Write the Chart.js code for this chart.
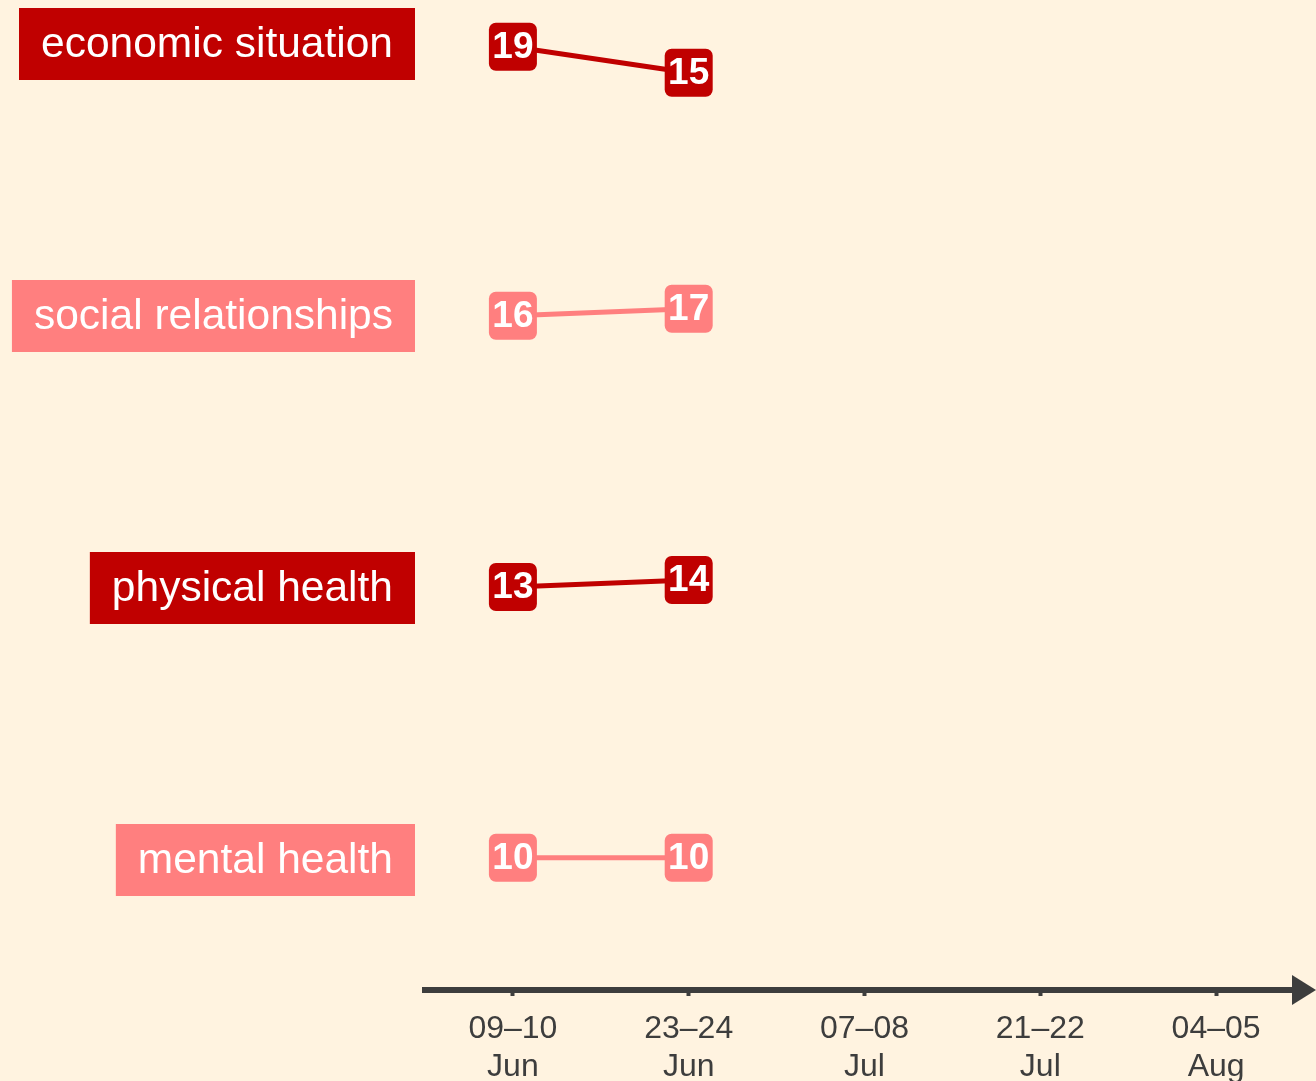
<!DOCTYPE html>
<html lang="en">
  <head>
    <meta charset="UTF-8" />
    <title>Concerns over time</title>
    <script src="https://cdn.jsdelivr.net/npm/chart.js@4.4.1/dist/chart.umd.min.js"></script>
    <style>
      body { margin: 0; background: #FFF3E0; }
      .box { width: 1316px; height: 1081px; }
    </style>
  </head>
  <body>
    <div class="box"><canvas id="chart"></canvas></div>
    <script>
// data
var periods = [['09–10', 'Jun'], ['23–24', 'Jun'], ['07–08', 'Jul'], ['21–22', 'Jul'], ['04–05', 'Aug']];
var topics = ['economic situation', 'social relationships', 'physical health', 'mental health'];
var economic = [19, 15, null, null, null];
var social = [16, 17, null, null, null];
var physical = [13, 14, null, null, null];
var mental = [10, 10, null, null, null];

var dark = '#C00000';
var pink = '#FF7F7F';
var axisColor = '#3d3d3d';
var FONT = '"Liberation Sans", Arial, sans-serif';

// each row gets its own hidden y axis (free scales, like facets)
var rowRanges = [[-126.1, 26.2], [-80.3, 61.1], [-44.6, 96.9], [-8.9, 132.6]];
var rowCenters = [44, 316, 588, 860];

var bgPlugin = {
  id: 'bg',
  beforeDraw: function(chart) {
    var c = chart.ctx;
    c.save();
    c.fillStyle = '#FFF3E0';
    c.fillRect(0, 0, chart.width, chart.height);
    c.restore();
  }
};

// rounded value boxes on each point
var valueBoxes = {
  id: 'valueBoxes',
  afterDatasetsDraw: function(chart) {
    var c = chart.ctx;
    c.save();
    chart.data.datasets.forEach(function(ds, i) {
      var meta = chart.getDatasetMeta(i);
      meta.data.forEach(function(pt, j) {
        var v = ds.data[j];
        if (v === null) return;
        c.fillStyle = ds.borderColor;
        c.beginPath();
        c.roundRect(pt.x - 24, pt.y - 24, 48, 48, 7);
        c.fill();
        c.fillStyle = '#fff';
        c.font = 'bold 37px ' + FONT;
        c.textAlign = 'center';
        c.textBaseline = 'middle';
        c.fillText(String(v), pt.x, pt.y + 1);
      });
    });
    c.restore();
  }
};

// label boxes on the left + arrow head on the x axis
var rowLabels = {
  id: 'rowLabels',
  afterDraw: function(chart) {
    var c = chart.ctx;
    c.save();
    c.font = '42.5px ' + FONT;
    c.textBaseline = 'middle';
    c.textAlign = 'right';
    topics.forEach(function(t, i) {
      var w = c.measureText(t).width;
      var right = 415;
      c.fillStyle = i % 2 === 0 ? dark : pink;
      c.fillRect(right - w - 44, rowCenters[i] - 36, w + 44, 72);
      c.fillStyle = '#fff';
      c.fillText(t, right - 22, rowCenters[i] + 1);
    });
    var y = chart.chartArea.bottom;
    c.fillStyle = axisColor;
    c.beginPath();
    c.moveTo(1292, y - 15);
    c.lineTo(1316, y);
    c.lineTo(1292, y + 15);
    c.closePath();
    c.fill();
    c.restore();
  }
};

function rowSet(values, color, axis) {
  return {
    data: values,
    borderColor: color,
    backgroundColor: color,
    borderWidth: 5,
    pointRadius: 0,
    yAxisID: axis,
    spanGaps: false
  };
}

function yAxis(r) {
  return { display: false, min: r[0], max: r[1] };
}

var ctx = document.getElementById('chart').getContext('2d');
var chart = new Chart(ctx, {
  type: 'line',
  data: {
    labels: periods,
    datasets: [
      rowSet(economic, dark, 'y0'),
      rowSet(social, pink, 'y1'),
      rowSet(physical, dark, 'y2'),
      rowSet(mental, pink, 'y3')
    ]
  },
  options: {
    responsive: true,
    maintainAspectRatio: false,
    animation: false,
    layout: { padding: { left: 425, right: 12, top: 0, bottom: 0 } },
    plugins: { legend: { display: false }, tooltip: { enabled: false } },
    scales: {
      x: {
        offset: true,
        afterFit: function(s) { s.height = 91; },
        border: { display: true, width: 6, color: axisColor },
        grid: { drawOnChartArea: false, drawTicks: true, tickLength: 6, tickWidth: 4, tickColor: axisColor },
        ticks: {
          color: axisColor,
          padding: 15,
          maxRotation: 0,
          font: { family: FONT, size: 32, lineHeight: 1.16 }
        }
      },
      y0: yAxis(rowRanges[0]),
      y1: yAxis(rowRanges[1]),
      y2: yAxis(rowRanges[2]),
      y3: yAxis(rowRanges[3])
    }
  },
  plugins: [bgPlugin, valueBoxes, rowLabels]
});
    </script>
  </body>
</html>
